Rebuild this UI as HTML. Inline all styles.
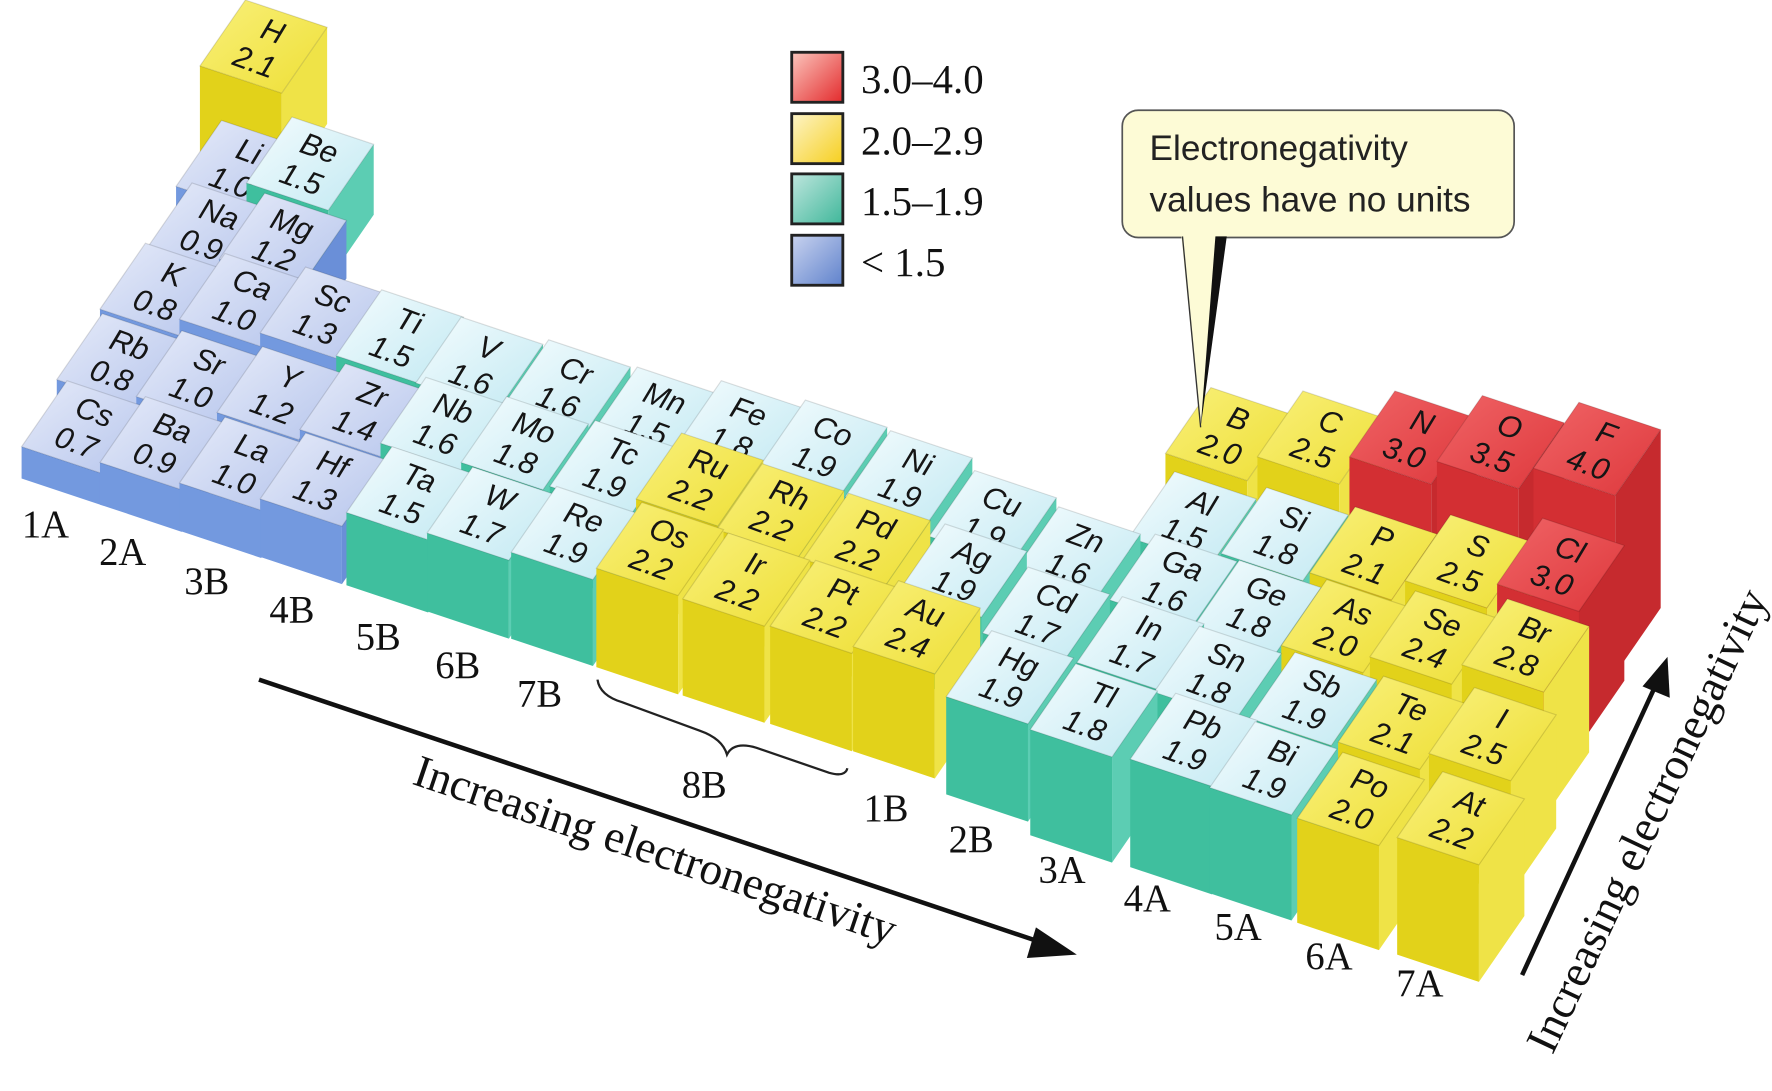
<!DOCTYPE html>
<html><head><meta charset="utf-8"><style>
html,body{margin:0;padding:0;background:#fff}
svg{display:block}
.f{transform:translate(-53px,17px) skewY(18.43deg)}
.s{transform:translate(19px,41px) skewY(-55.4deg)}
.t{stroke:rgba(0,0,0,0.13);stroke-width:1}
.a,.n{font-family:"Liberation Sans",sans-serif;font-style:italic;font-size:27px;fill:#151515;text-anchor:middle}
.a{transform:translate(8px,-5px) rotate(20deg)}
.n{transform:translate(-8px,22px) rotate(20deg)}
.B .t{fill:url(#gb)}.B .f{fill:#7399df}.B .s{fill:#6a8fd8}
.T .t{fill:url(#gt)}.T .f{fill:#3fbf9e}.T .s{fill:#5ccdb3}
.Y .t{fill:url(#gy)}.Y .f{fill:#e2d21a}.Y .s{fill:#efe347}
.R .t{fill:url(#gr)}.R .f{fill:#d32f33}.R .s{fill:#c62a2e}
.g{font-family:"Liberation Serif",serif;font-size:34px;fill:#111;text-anchor:middle;dominant-baseline:central}
.lg{font-family:"Liberation Serif",serif;font-size:36px;fill:#111}
.cl{font-family:"Liberation Sans",sans-serif;font-size:31px;fill:#222}
.ar{font-family:"Liberation Serif",serif;font-size:40px;fill:#111;text-anchor:middle;dominant-baseline:central}
</style></head><body>
<svg width="1772" height="1091" viewBox="0 0 1560 960" preserveAspectRatio="none" xmlns="http://www.w3.org/2000/svg">
<defs>
<linearGradient id="gb" x1="0" y1="0" x2="1" y2="1"><stop offset="0" stop-color="#e6ebf9"/><stop offset="1" stop-color="#b6c5ec"/></linearGradient>
<linearGradient id="gt" x1="0" y1="0" x2="1" y2="1"><stop offset="0" stop-color="#f4fcfe"/><stop offset="1" stop-color="#c2e9f2"/></linearGradient>
<linearGradient id="gy" x1="0" y1="0" x2="1" y2="1"><stop offset="0" stop-color="#f9f07a"/><stop offset="1" stop-color="#eedf36"/></linearGradient>
<linearGradient id="gr" x1="0" y1="0" x2="1" y2="1"><stop offset="0" stop-color="#f06466"/><stop offset="1" stop-color="#de383c"/></linearGradient>
<linearGradient id="lr" x1="0" y1="0" x2="1" y2="1"><stop offset="0" stop-color="#fbc6bd"/><stop offset="1" stop-color="#e32a2c"/></linearGradient>
<linearGradient id="ly" x1="0" y1="0" x2="1" y2="1"><stop offset="0" stop-color="#fdf4c8"/><stop offset="1" stop-color="#f6cf1e"/></linearGradient>
<linearGradient id="lt" x1="0" y1="0" x2="1" y2="1"><stop offset="0" stop-color="#bfe6de"/><stop offset="1" stop-color="#3fb79a"/></linearGradient>
<linearGradient id="lb" x1="0" y1="0" x2="1" y2="1"><stop offset="0" stop-color="#c9d3ef"/><stop offset="1" stop-color="#5f82cc"/></linearGradient>
<path id="tp" d="M-53 17L19 41L59 -17L-13 -41Z"/>
</defs>

<g class="Y" transform="translate(229,41)"><rect class="f" width="72" height="85"/><rect class="s" width="40" height="85"/><use href="#tp" class="t"/><text class="a">H</text><text class="n">2.1</text></g>

<g class="B" transform="translate(208,147)"><rect class="f" width="72" height="43"/><rect class="s" width="40" height="43"/><use href="#tp" class="t"/><text class="a">Li</text><text class="n">1.0</text></g>
<g class="T" transform="translate(270,144)"><rect class="f" width="72" height="62"/><rect class="s" width="40" height="62"/><use href="#tp" class="t"/><text class="a">Be</text><text class="n">1.5</text></g>
<g class="Y" transform="translate(1079,382)"><rect class="f" width="72" height="81"/><rect class="s" width="40" height="81"/><use href="#tp" class="t"/><text class="a">B</text><text class="n">2.0</text></g>
<g class="Y" transform="translate(1160,385)"><rect class="f" width="72" height="100"/><rect class="s" width="40" height="100"/><use href="#tp" class="t"/><text class="a">C</text><text class="n">2.5</text></g>
<g class="R" transform="translate(1241,385)"><rect class="f" width="72" height="119"/><rect class="s" width="40" height="119"/><use href="#tp" class="t"/><text class="a">N</text><text class="n">3.0</text></g>
<g class="R" transform="translate(1318,389)"><rect class="f" width="72" height="138"/><rect class="s" width="40" height="138"/><use href="#tp" class="t"/><text class="a">O</text><text class="n">3.5</text></g>
<g class="R" transform="translate(1403,395)"><rect class="f" width="72" height="157"/><rect class="s" width="40" height="157"/><use href="#tp" class="t"/><text class="a">F</text><text class="n">4.0</text></g>

<g class="B" transform="translate(182,202)"><rect class="f" width="72" height="39"/><rect class="s" width="40" height="39"/><use href="#tp" class="t"/><text class="a">Na</text><text class="n">0.9</text></g>
<g class="B" transform="translate(246,211)"><rect class="f" width="72" height="51"/><rect class="s" width="40" height="51"/><use href="#tp" class="t"/><text class="a">Mg</text><text class="n">1.2</text></g>
<g class="T" transform="translate(1047,456)"><rect class="f" width="72" height="62"/><rect class="s" width="40" height="62"/><use href="#tp" class="t"/><text class="a">Al</text><text class="n">1.5</text></g>
<g class="T" transform="translate(1128,470)"><rect class="f" width="72" height="73"/><rect class="s" width="40" height="73"/><use href="#tp" class="t"/><text class="a">Si</text><text class="n">1.8</text></g>
<g class="Y" transform="translate(1206,487)"><rect class="f" width="72" height="85"/><rect class="s" width="40" height="85"/><use href="#tp" class="t"/><text class="a">P</text><text class="n">2.1</text></g>
<g class="Y" transform="translate(1290,494)"><rect class="f" width="72" height="100"/><rect class="s" width="40" height="100"/><use href="#tp" class="t"/><text class="a">S</text><text class="n">2.5</text></g>
<g class="R" transform="translate(1371,497)"><rect class="f" width="72" height="119"/><rect class="s" width="40" height="119"/><use href="#tp" class="t"/><text class="a">Cl</text><text class="n">3.0</text></g>

<g class="B" transform="translate(141,255)"><rect class="f" width="72" height="35"/><rect class="s" width="40" height="35"/><use href="#tp" class="t"/><text class="a">K</text><text class="n">0.8</text></g>
<g class="B" transform="translate(211,264)"><rect class="f" width="72" height="43"/><rect class="s" width="40" height="43"/><use href="#tp" class="t"/><text class="a">Ca</text><text class="n">1.0</text></g>
<g class="B" transform="translate(282,276)"><rect class="f" width="72" height="54"/><rect class="s" width="40" height="54"/><use href="#tp" class="t"/><text class="a">Sc</text><text class="n">1.3</text></g>
<g class="T" transform="translate(349,296)"><rect class="f" width="72" height="62"/><rect class="s" width="40" height="62"/><use href="#tp" class="t"/><text class="a">Ti</text><text class="n">1.5</text></g>
<g class="T" transform="translate(419,320)"><rect class="f" width="72" height="66"/><rect class="s" width="40" height="66"/><use href="#tp" class="t"/><text class="a">V</text><text class="n">1.6</text></g>
<g class="T" transform="translate(496,340)"><rect class="f" width="72" height="66"/><rect class="s" width="40" height="66"/><use href="#tp" class="t"/><text class="a">Cr</text><text class="n">1.6</text></g>
<g class="T" transform="translate(574,364)"><rect class="f" width="72" height="62"/><rect class="s" width="40" height="62"/><use href="#tp" class="t"/><text class="a">Mn</text><text class="n">1.5</text></g>
<g class="T" transform="translate(648,376)"><rect class="f" width="72" height="73"/><rect class="s" width="40" height="73"/><use href="#tp" class="t"/><text class="a">Fe</text><text class="n">1.8</text></g>
<g class="T" transform="translate(722,393)"><rect class="f" width="72" height="77"/><rect class="s" width="40" height="77"/><use href="#tp" class="t"/><text class="a">Co</text><text class="n">1.9</text></g>
<g class="T" transform="translate(797,420)"><rect class="f" width="72" height="77"/><rect class="s" width="40" height="77"/><use href="#tp" class="t"/><text class="a">Ni</text><text class="n">1.9</text></g>
<g class="T" transform="translate(871,455)"><rect class="f" width="72" height="77"/><rect class="s" width="40" height="77"/><use href="#tp" class="t"/><text class="a">Cu</text><text class="n">1.9</text></g>
<g class="T" transform="translate(945,487)"><rect class="f" width="72" height="66"/><rect class="s" width="40" height="66"/><use href="#tp" class="t"/><text class="a">Zn</text><text class="n">1.6</text></g>
<g class="T" transform="translate(1030,511)"><rect class="f" width="72" height="66"/><rect class="s" width="40" height="66"/><use href="#tp" class="t"/><text class="a">Ga</text><text class="n">1.6</text></g>
<g class="T" transform="translate(1104,534)"><rect class="f" width="72" height="73"/><rect class="s" width="40" height="73"/><use href="#tp" class="t"/><text class="a">Ge</text><text class="n">1.8</text></g>
<g class="Y" transform="translate(1181,551)"><rect class="f" width="72" height="81"/><rect class="s" width="40" height="81"/><use href="#tp" class="t"/><text class="a">As</text><text class="n">2.0</text></g>
<g class="Y" transform="translate(1259,561)"><rect class="f" width="72" height="96"/><rect class="s" width="40" height="96"/><use href="#tp" class="t"/><text class="a">Se</text><text class="n">2.4</text></g>
<g class="Y" transform="translate(1340,568)"><rect class="f" width="72" height="111"/><rect class="s" width="40" height="111"/><use href="#tp" class="t"/><text class="a">Br</text><text class="n">2.8</text></g>

<g class="B" transform="translate(103,317)"><rect class="f" width="72" height="35"/><rect class="s" width="40" height="35"/><use href="#tp" class="t"/><text class="a">Rb</text><text class="n">0.8</text></g>
<g class="B" transform="translate(173,332)"><rect class="f" width="72" height="43"/><rect class="s" width="40" height="43"/><use href="#tp" class="t"/><text class="a">Sr</text><text class="n">1.0</text></g>
<g class="B" transform="translate(244,346)"><rect class="f" width="72" height="51"/><rect class="s" width="40" height="51"/><use href="#tp" class="t"/><text class="a">Y</text><text class="n">1.2</text></g>
<g class="B" transform="translate(317,361)"><rect class="f" width="72" height="58"/><rect class="s" width="40" height="58"/><use href="#tp" class="t"/><text class="a">Zr</text><text class="n">1.4</text></g>
<g class="T" transform="translate(388,373)"><rect class="f" width="72" height="66"/><rect class="s" width="40" height="66"/><use href="#tp" class="t"/><text class="a">Nb</text><text class="n">1.6</text></g>
<g class="T" transform="translate(459,390)"><rect class="f" width="72" height="73"/><rect class="s" width="40" height="73"/><use href="#tp" class="t"/><text class="a">Mo</text><text class="n">1.8</text></g>
<g class="T" transform="translate(537,411)"><rect class="f" width="72" height="77"/><rect class="s" width="40" height="77"/><use href="#tp" class="t"/><text class="a">Tc</text><text class="n">1.9</text></g>
<g class="Y" transform="translate(613,422)"><rect class="f" width="72" height="89"/><rect class="s" width="40" height="89"/><use href="#tp" class="t"/><text class="a">Ru</text><text class="n">2.2</text></g>
<g class="Y" transform="translate(684,449)"><rect class="f" width="72" height="89"/><rect class="s" width="40" height="89"/><use href="#tp" class="t"/><text class="a">Rh</text><text class="n">2.2</text></g>
<g class="Y" transform="translate(760,475)"><rect class="f" width="72" height="89"/><rect class="s" width="40" height="89"/><use href="#tp" class="t"/><text class="a">Pd</text><text class="n">2.2</text></g>
<g class="T" transform="translate(845,502)"><rect class="f" width="72" height="77"/><rect class="s" width="40" height="77"/><use href="#tp" class="t"/><text class="a">Ag</text><text class="n">1.9</text></g>
<g class="T" transform="translate(918,540)"><rect class="f" width="72" height="70"/><rect class="s" width="40" height="70"/><use href="#tp" class="t"/><text class="a">Cd</text><text class="n">1.7</text></g>
<g class="T" transform="translate(1001,566)"><rect class="f" width="72" height="70"/><rect class="s" width="40" height="70"/><use href="#tp" class="t"/><text class="a">In</text><text class="n">1.7</text></g>
<g class="T" transform="translate(1069,592)"><rect class="f" width="72" height="73"/><rect class="s" width="40" height="73"/><use href="#tp" class="t"/><text class="a">Sn</text><text class="n">1.8</text></g>
<g class="T" transform="translate(1153,615)"><rect class="f" width="72" height="77"/><rect class="s" width="40" height="77"/><use href="#tp" class="t"/><text class="a">Sb</text><text class="n">1.9</text></g>
<g class="Y" transform="translate(1231,636)"><rect class="f" width="72" height="85"/><rect class="s" width="40" height="85"/><use href="#tp" class="t"/><text class="a">Te</text><text class="n">2.1</text></g>
<g class="Y" transform="translate(1311,646)"><rect class="f" width="72" height="100"/><rect class="s" width="40" height="100"/><use href="#tp" class="t"/><text class="a">I</text><text class="n">2.5</text></g>

<g class="B" transform="translate(72,376)"><rect class="f" width="72" height="28"/><rect class="s" width="40" height="28"/><use href="#tp" class="t"/><text class="a">Cs</text><text class="n">0.7</text></g>
<g class="B" transform="translate(141,390)"><rect class="f" width="72" height="37"/><rect class="s" width="40" height="37"/><use href="#tp" class="t"/><text class="a">Ba</text><text class="n">0.9</text></g>
<g class="B" transform="translate(211,408)"><rect class="f" width="72" height="42"/><rect class="s" width="40" height="42"/><use href="#tp" class="t"/><text class="a">La</text><text class="n">1.0</text></g>
<g class="B" transform="translate(282,422)"><rect class="f" width="72" height="51"/><rect class="s" width="40" height="51"/><use href="#tp" class="t"/><text class="a">Hf</text><text class="n">1.3</text></g>
<g class="T" transform="translate(358,434)"><rect class="f" width="72" height="64"/><rect class="s" width="40" height="64"/><use href="#tp" class="t"/><text class="a">Ta</text><text class="n">1.5</text></g>
<g class="T" transform="translate(429,452)"><rect class="f" width="72" height="69"/><rect class="s" width="40" height="69"/><use href="#tp" class="t"/><text class="a">W</text><text class="n">1.7</text></g>
<g class="T" transform="translate(503,469)"><rect class="f" width="72" height="76"/><rect class="s" width="40" height="76"/><use href="#tp" class="t"/><text class="a">Re</text><text class="n">1.9</text></g>
<g class="Y" transform="translate(578,483)"><rect class="f" width="72" height="87"/><rect class="s" width="40" height="87"/><use href="#tp" class="t"/><text class="a">Os</text><text class="n">2.2</text></g>
<g class="Y" transform="translate(654,510)"><rect class="f" width="72" height="85"/><rect class="s" width="40" height="85"/><use href="#tp" class="t"/><text class="a">Ir</text><text class="n">2.2</text></g>
<g class="Y" transform="translate(731,534)"><rect class="f" width="72" height="86"/><rect class="s" width="40" height="86"/><use href="#tp" class="t"/><text class="a">Pt</text><text class="n">2.2</text></g>
<g class="Y" transform="translate(804,552)"><rect class="f" width="72" height="92"/><rect class="s" width="40" height="92"/><use href="#tp" class="t"/><text class="a">Au</text><text class="n">2.4</text></g>
<g class="T" transform="translate(886,596)"><rect class="f" width="72" height="86"/><rect class="s" width="40" height="86"/><use href="#tp" class="t"/><text class="a">Hg</text><text class="n">1.9</text></g>
<g class="T" transform="translate(960,625)"><rect class="f" width="72" height="93"/><rect class="s" width="40" height="93"/><use href="#tp" class="t"/><text class="a">Tl</text><text class="n">1.8</text></g>
<g class="T" transform="translate(1048,651)"><rect class="f" width="72" height="95"/><rect class="s" width="40" height="95"/><use href="#tp" class="t"/><text class="a">Pb</text><text class="n">1.9</text></g>
<g class="T" transform="translate(1118,676)"><rect class="f" width="72" height="93"/><rect class="s" width="40" height="93"/><use href="#tp" class="t"/><text class="a">Bi</text><text class="n">1.9</text></g>
<g class="Y" transform="translate(1195,703)"><rect class="f" width="72" height="92"/><rect class="s" width="40" height="92"/><use href="#tp" class="t"/><text class="a">Po</text><text class="n">2.0</text></g>
<g class="Y" transform="translate(1283,720)"><rect class="f" width="72" height="103"/><rect class="s" width="40" height="103"/><use href="#tp" class="t"/><text class="a">At</text><text class="n">2.2</text></g>

<text class="g" x="40" y="462">1A</text>
<text class="g" x="108" y="486">2A</text>
<text class="g" x="182" y="512">3B</text>
<text class="g" x="257" y="537">4B</text>
<text class="g" x="333" y="561">5B</text>
<text class="g" x="403" y="586">6B</text>
<text class="g" x="475" y="611">7B</text>
<text class="g" x="620" y="691">8B</text>
<text class="g" x="780" y="712">1B</text>
<text class="g" x="855" y="739">2B</text>
<text class="g" x="935" y="766">3A</text>
<text class="g" x="1010" y="791">4A</text>
<text class="g" x="1090" y="816">5A</text>
<text class="g" x="1170" y="842">6A</text>
<text class="g" x="1250" y="866">7A</text>

<path d="M526 598 Q528 612 548 618 L616 643 Q636 650 640 664 Q646 652 666 658 L730 680 Q744 684 746 676" fill="none" stroke="#222" stroke-width="2"/>

<line x1="228" y1="598" x2="922" y2="831" stroke="#111" stroke-width="4"/>
<polygon points="948,840 912,816 904,843" fill="#111"/>
<text class="ar" transform="translate(577,748) rotate(18.6)">Increasing electronegativity</text>

<line x1="1340" y1="858" x2="1458" y2="602" stroke="#111" stroke-width="4"/>
<polygon points="1468,578 1446,604 1470,614" fill="#111"/>
<text class="ar" transform="translate(1450,722) rotate(-64.7)">Increasing electronegativity</text>

<rect x="697" y="46" width="45" height="44" fill="url(#lr)" stroke="#222" stroke-width="2.5"/>
<rect x="697" y="100" width="45" height="44" fill="url(#ly)" stroke="#222" stroke-width="2.5"/>
<rect x="697" y="153" width="45" height="44" fill="url(#lt)" stroke="#222" stroke-width="2.5"/>
<rect x="697" y="207" width="45" height="44" fill="url(#lb)" stroke="#222" stroke-width="2.5"/>
<text class="lg" x="758" y="82">3.0–4.0</text>
<text class="lg" x="758" y="136">2.0–2.9</text>
<text class="lg" x="758" y="189">1.5–1.9</text>
<text class="lg" x="758" y="243">&lt; 1.5</text>

<rect x="988" y="97" width="345" height="112" rx="14" fill="#fdfbd6" stroke="#555" stroke-width="1.5"/>
<polygon points="1040,208 1078,208 1057,376" fill="#fdfbd6"/>
<line x1="1041" y1="208" x2="1057" y2="376" stroke="#333" stroke-width="1.2"/>
<polygon points="1070,208 1080,208 1057,376" fill="#111"/>
<text class="cl" x="1012" y="141">Electronegativity</text>
<text class="cl" x="1012" y="186">values have no units</text>
</svg>
</body></html>
